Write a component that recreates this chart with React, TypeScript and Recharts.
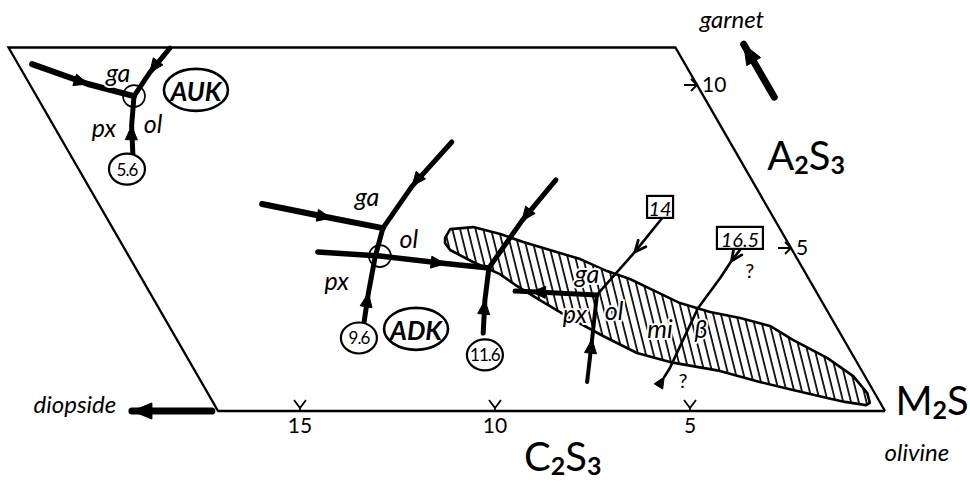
import React from 'react';
import { ScatterChart, Scatter, XAxis, YAxis } from 'recharts';

// compositions in wt%: c = C2S3 (0 at the M2S apex, growing to the left), a = A2S3
type Head = 'solid' | 'open' | 'rev';
type Pt = { c: number; a: number; head?: Head };
type Tag = { c: number; a: number; text: string };

const frame: Pt[] = [
  { c: 0, a: 0 },
  { c: 17.1, a: 0 },
  { c: 17.1, a: 11.15 },
  { c: 0, a: 11.15 },
  { c: 0, a: 0 },
];

// hatched field
const meltField: Pt[] = [
  { c: 8.72, a: 5.31 }, { c: 8.46, a: 5.58 }, { c: 7.84, a: 5.64 }, { c: 7.25, a: 5.43 },
  { c: 6.78, a: 5.18 }, { c: 6.21, a: 4.94 }, { c: 5.57, a: 4.66 }, { c: 5.06, a: 4.29 },
  { c: 4.59, a: 4.05 }, { c: 4.16, a: 3.71 }, { c: 3.66, a: 3.31 }, { c: 3.02, a: 3.04 },
  { c: 2.34, a: 2.85 }, { c: 1.69, a: 2.61 }, { c: 1.31, a: 2.18 }, { c: 0.7, a: 1.63 },
  { c: 0.3, a: 1.07 }, { c: 0.19, a: 0.55 }, { c: 0.27, a: 0.25 }, { c: 0.4, a: 0.18 },
  { c: 0.89, a: 0.28 }, { c: 1.29, a: 0.4 }, { c: 2.05, a: 0.64 }, { c: 2.78, a: 0.89 },
  { c: 3.64, a: 1.23 }, { c: 4.79, a: 1.5 }, { c: 5.5, a: 1.78 }, { c: 6.12, a: 2.3 },
  { c: 6.7, a: 2.85 }, { c: 7.21, a: 3.4 }, { c: 7.62, a: 3.87 }, { c: 7.85, a: 4.2 },
  { c: 8.36, a: 4.57 }, { c: 8.77, a: 4.94 }, { c: 8.8, a: 5.15 }, { c: 8.72, a: 5.31 },
];

// AUK cotectics
const aukGaPx: Pt[] = [{ c: 16.74, a: 10.64 }, { c: 15.6, a: 10.03, head: 'solid' }, { c: 14.6, a: 9.66 }];
const aukGaOl: Pt[] = [{ c: 12.97, a: 11.13 }, { c: 13.85, a: 10.38, head: 'solid' }, { c: 14.6, a: 9.66 }];
const aukPxOl: Pt[] = [{ c: 15.5, a: 7.85 }, { c: 15.1, a: 8.75, head: 'solid' }, { c: 14.6, a: 9.66 }];

// ADK cotectics
const adkGaPx: Pt[] = [{ c: 12.91, a: 6.35 }, { c: 11.35, a: 5.92, head: 'solid' }, { c: 10.17, a: 5.61 }];
const adkGaOl: Pt[] = [{ c: 7.13, a: 8.25 }, { c: 8.8, a: 6.9, head: 'solid' }, { c: 10.17, a: 5.61 }];
const adkPxOl: Pt[] = [{ c: 12.04, a: 2.73 }, { c: 11.5, a: 3.62, head: 'solid' }, { c: 10.8, a: 4.72 }, { c: 10.17, a: 5.61 }];
const adkTrunk: Pt[] = [{ c: 12.19, a: 4.88 }, { c: 10.66, a: 4.75 }, { c: 9.1, a: 4.52, head: 'solid' }, { c: 8.04, a: 4.39 }];
const run116North: Pt[] = [{ c: 5.02, a: 7.09 }, { c: 6.5, a: 5.83, head: 'solid' }, { c: 8.04, a: 4.39 }];
const run116South: Pt[] = [{ c: 9.15, a: 2.39 }, { c: 8.62, a: 3.4, head: 'solid' }, { c: 8.04, a: 4.39 }];

// run 14
const run14West: Pt[] = [{ c: 5.67, a: 3.56 }, { c: 7.3, a: 3.66, head: 'solid' }, { c: 7.71, a: 3.68 }];
const run14North: Pt[] = [{ c: 2.86, a: 5.92 }, { c: 4.06, a: 4.88, head: 'open' }, { c: 5.67, a: 3.56 }];
const run14South: Pt[] = [{ c: 7.21, a: 0.89 }, { c: 6.45, a: 2.2, head: 'solid' }, { c: 5.67, a: 3.56 }];

// run 16.5
const run165: Pt[] = [
  { c: 1.34, a: 4.94 }, { c: 1.72, a: 4.6, head: 'open' }, { c: 2.26, a: 4.08 },
  { c: 3.27, a: 3.16 }, { c: 4.18, a: 2.12 }, { c: 4.88, a: 1.32 }, { c: 5.16, a: 1.04, head: 'rev' },
];

const garnetDir: Pt[] = [{ c: -1.8, a: 9.63 }, { c: -1.8, a: 11.25, head: 'solid' }];
const diopsideDir: Pt[] = [{ c: 17.26, a: 0 }, { c: 19.31, a: 0, head: 'solid' }];

const junctionRings: Pt[] = [{ c: 14.6, a: 9.66 }, { c: 10.66, a: 4.75 }];

const phaseTags: Tag[] = [
  { c: 14.65, a: 10.4, text: 'ga' }, { c: 15.83, a: 8.71, text: 'px' }, { c: 14.51, a: 8.83, text: 'ol' },
  { c: 10.1, a: 6.6, text: 'ga' }, { c: 9.65, a: 5.31, text: 'ol' }, { c: 12.12, a: 4.02, text: 'px' },
  { c: 5.6, a: 4.23, text: 'ga' }, { c: 6.5, a: 3.01, text: 'px' }, { c: 5.45, a: 3.1, text: 'ol' },
  { c: 4.54, a: 2.55, text: 'mi' }, { c: 3.49, a: 2.55, text: 'β' },
];
const queryTags: Tag[] = [{ c: 1.38, a: 4.33, text: '?' }, { c: 4.72, a: 0.95, text: '?' }];
const runTags: Tag[] = [
  { c: 15.86, a: 7.42, text: '5.6' }, { c: 12.41, a: 2.24, text: '9.6' }, { c: 9.43, a: 1.72, text: '11.6' },
];
const boxTags: Tag[] = [{ c: 2.75, a: 6.26, text: '14' }, { c: 1.16, a: 5.31, text: '16.5' }];
const rockTags: Tag[] = [{ c: 12.92, a: 9.85, text: 'AUK' }, { c: 10.81, a: 2.52, text: 'ADK' }];
const mineralTags: Tag[] = [
  { c: -1.74, a: 11.75, text: 'garnet' }, { c: 20.8, a: -0.06, text: 'diopside' }, { c: -0.08, a: -1.53, text: 'olivine' },
];
const formulaTags: Tag[] = [
  { c: -1.54, a: 7.39, text: 'A2S3' }, { c: -1.15, a: -0.12, text: 'M2S' }, { c: 9.15, a: -1.84, text: 'C2S3' },
];
const c2s3Ticks = [15, 10, 5];
const a2s3Ticks = [10, 5];

const W = 970;
const H = 483;
// where the M2S apex lands and how many pixels one wt% spans
const APEX_X = 885;
const APEX_Y = 411;
const PX_C = 39;
const PX_A = 32.6;
const SLANT = 18.8;
const SHEAR = SLANT / PX_C;
const X_DOMAIN: [number, number] = [(APEX_X - W) / PX_C, APEX_X / PX_C];
const Y_DOMAIN: [number, number] = [(APEX_Y - H) / PX_A, APEX_Y / PX_A];

const FONT = 'Lato, "DejaVu Sans", sans-serif';

const toXY = <T extends { c: number; a: number }>(rows: T[]) =>
  rows.map((p) => ({ ...p, x: p.c + SHEAR * p.a, y: p.a }));

const pathOf = (ps: { x: number; y: number }[]) =>
  ps.map((p, i) => `${i ? 'L' : 'M'}${p.x.toFixed(1)},${p.y.toFixed(1)}`).join('');

const blank = () => <g />;

const flowLine = (src: Pt[], width: number, big = false) => (props: any) => {
  const ps: { x: number; y: number }[] = props.points || [];
  const len = big ? 20 : width < 3 ? 11 : 14;
  const half = big ? 8 : width < 3 ? 5 : 6;
  const heads = src.map((p, i) => {
    if (!p.head || !ps[i]) return null;
    const a = ps[Math.max(i - 1, 0)];
    const b = ps[Math.min(i + 1, ps.length - 1)];
    const n = Math.hypot(b.x - a.x, b.y - a.y) || 1;
    let ux = (b.x - a.x) / n;
    let uy = (b.y - a.y) / n;
    if (p.head === 'rev') {
      ux = -ux;
      uy = -uy;
    }
    const t = ps[i];
    const bx = t.x - ux * len;
    const by = t.y - uy * len;
    const d = `M${bx - uy * half},${by + ux * half}L${t.x},${t.y}L${bx + uy * half},${by - ux * half}`;
    if (p.head === 'open') {
      return <path key={i} d={d} fill='none' stroke='#000' strokeWidth={2.8} strokeLinecap='round' />;
    }
    return <path key={i} d={d + 'Z'} fill='#000' stroke='#000' strokeWidth={1} strokeLinejoin='round' />;
  });
  return (
    <g>
      <path d={pathOf(ps)} fill='none' stroke='#000' strokeWidth={width} strokeLinecap='round' strokeLinejoin='round' />
      {heads}
    </g>
  );
};

const outline = (props: any) => (
  <path d={pathOf(props.points || [])} fill='none' stroke='#000' strokeWidth={2.3} strokeLinejoin='miter' />
);

const hatched = (props: any) => (
  <g>
    <defs>
      <pattern id='hatch' width={7.5} height={12} patternUnits='userSpaceOnUse' patternTransform='rotate(-14)'>
        <line x1={1} y1={-1} x2={1} y2={13} stroke='#000' strokeWidth={1.7} />
      </pattern>
    </defs>
    <path d={pathOf(props.points || []) + 'Z'} fill='url(#hatch)' stroke='#000' strokeWidth={2.6} strokeLinejoin='round' />
  </g>
);

const halo = { stroke: '#fff', strokeWidth: 4, paintOrder: 'stroke' as const, strokeLinejoin: 'round' as const };

const phaseShape = (props: any) => (
  <text x={props.cx} y={props.cy} textAnchor='middle' dominantBaseline='central' fontFamily={FONT}
    fontStyle='italic' fontSize={25} fill='#000' {...halo}>
    {props.payload.text}
  </text>
);

const queryShape = (props: any) => (
  <text x={props.cx} y={props.cy} textAnchor='middle' dominantBaseline='central' fontFamily={FONT}
    fontSize={20} fill='#000'>
    {props.payload.text}
  </text>
);

const ringShape = (props: any) => (
  <circle cx={props.cx} cy={props.cy} r={11} fill='none' stroke='#000' strokeWidth={1.6} />
);

const runShape = (props: any) => (
  <g>
    <ellipse cx={props.cx} cy={props.cy} rx={18} ry={15.5} fill='#fff' stroke='#000' strokeWidth={2.2} />
    <text x={props.cx} y={props.cy} textAnchor='middle' dominantBaseline='central' fontFamily={FONT}
      fontSize={17} letterSpacing={-1} fill='#000'>
      {props.payload.text}
    </text>
  </g>
);

const boxShape = (props: any) => {
  const w = props.payload.text.length * 10 + 6;
  return (
    <g>
      <rect x={props.cx - w / 2} y={props.cy - 11} width={w} height={22} fill='#fff' stroke='#000' strokeWidth={2.2} />
      <text x={props.cx} y={props.cy + 1} textAnchor='middle' dominantBaseline='central' fontFamily={FONT}
        fontStyle='italic' fontSize={20} fill='#000'>
        {props.payload.text}
      </text>
    </g>
  );
};

const rockShape = (props: any) => (
  <g>
    <ellipse cx={props.cx} cy={props.cy} rx={32} ry={21} fill='#fff' stroke='#000' strokeWidth={2.6} />
    <text x={props.cx} y={props.cy + 1} textAnchor='middle' dominantBaseline='central' fontFamily={FONT}
      fontStyle='italic' fontWeight={700} fontSize={26} fill='#000'>
      {props.payload.text}
    </text>
  </g>
);

const mineralShape = (props: any) => (
  <text x={props.cx} y={props.cy} textAnchor='middle' fontFamily={FONT} fontStyle='italic' fontSize={24} fill='#000'>
    {props.payload.text}
  </text>
);

const formulaShape = (props: any) => {
  const parts: string[] = props.payload.text.match(/[A-Z]|\d/g) || [];
  let low = false;
  return (
    <text x={props.cx} y={props.cy} textAnchor='middle' fontFamily={FONT} fontSize={40} fill='#000'>
      {parts.map((ch, i) => {
        const sub = /\d/.test(ch);
        const dy = sub && !low ? 4 : !sub && low ? -4 : 0;
        low = sub;
        return (
          <tspan key={i} dy={dy} fontSize={sub ? 25 : 40} fontWeight={sub ? 700 : 400}>
            {ch}
          </tspan>
        );
      })}
    </text>
  );
};

const baseTickShape = (props: any) => {
  const { cx, cy } = props;
  return (
    <g>
      <path d={`M${cx - 6},${cy - 11}L${cx},${cy - 3}L${cx + 6},${cy - 11}M${cx},${cy - 3}V${cy}`}
        fill='none' stroke='#000' strokeWidth={1.8} />
      <text x={cx} y={cy + 22} textAnchor='middle' fontFamily={FONT} fontSize={21} fill='#000'>
        {props.payload.c}
      </text>
    </g>
  );
};

const sideTickShape = (props: any) => {
  const { cx, cy } = props;
  return (
    <g>
      <path d={`M${cx - 13},${cy}H${cx}M${cx - 6},${cy - 6}L${cx},${cy}L${cx - 6},${cy + 6}`}
        fill='none' stroke='#000' strokeWidth={1.8} />
      <text x={cx + 5} y={cy + 7} fontFamily={FONT} fontSize={21} fill='#000'>
        {props.payload.a}
      </text>
    </g>
  );
};

const flows: { key: string; pts: Pt[]; width: number; big?: boolean }[] = [
  { key: 'aukGaPx', pts: aukGaPx, width: 6 },
  { key: 'aukGaOl', pts: aukGaOl, width: 5 },
  { key: 'aukPxOl', pts: aukPxOl, width: 5 },
  { key: 'adkGaPx', pts: adkGaPx, width: 6 },
  { key: 'adkGaOl', pts: adkGaOl, width: 5 },
  { key: 'adkPxOl', pts: adkPxOl, width: 5 },
  { key: 'adkTrunk', pts: adkTrunk, width: 5.5 },
  { key: 'run116North', pts: run116North, width: 5 },
  { key: 'run116South', pts: run116South, width: 5 },
  { key: 'run14West', pts: run14West, width: 5 },
  { key: 'run14North', pts: run14North, width: 2.6 },
  { key: 'run14South', pts: run14South, width: 4 },
  { key: 'run165', pts: run165, width: 2.6 },
  { key: 'garnetDir', pts: garnetDir, width: 7, big: true },
  { key: 'diopsideDir', pts: diopsideDir, width: 7, big: true },
];

const App: React.FC = () => (
  <div style={{ position: 'absolute', left: 0, top: 0, width: W, height: H, background: '#fff' }}>
    <ScatterChart width={W} height={H} margin={{ top: 0, right: 0, bottom: 0, left: 0 }}>
      <XAxis type='number' dataKey='x' domain={X_DOMAIN} reversed hide allowDataOverflow />
      <YAxis type='number' dataKey='y' domain={Y_DOMAIN} hide allowDataOverflow />
      <Scatter data={toXY(meltField)} line={hatched} shape={blank} isAnimationActive={false} />
      <Scatter data={toXY(frame)} line={outline} shape={blank} isAnimationActive={false} />
      <Scatter data={toXY(c2s3Ticks.map((c) => ({ c, a: 0 })))} shape={baseTickShape} isAnimationActive={false} />
      <Scatter data={toXY(a2s3Ticks.map((a) => ({ c: 0, a })))} shape={sideTickShape} isAnimationActive={false} />
      {flows.map((f) => (
        <Scatter key={f.key} data={toXY(f.pts)} line={flowLine(f.pts, f.width, f.big)} shape={blank}
          isAnimationActive={false} />
      ))}
      <Scatter data={toXY(junctionRings)} shape={ringShape} isAnimationActive={false} />
      <Scatter data={toXY(phaseTags)} shape={phaseShape} isAnimationActive={false} />
      <Scatter data={toXY(queryTags)} shape={queryShape} isAnimationActive={false} />
      <Scatter data={toXY(runTags)} shape={runShape} isAnimationActive={false} />
      <Scatter data={toXY(boxTags)} shape={boxShape} isAnimationActive={false} />
      <Scatter data={toXY(rockTags)} shape={rockShape} isAnimationActive={false} />
      <Scatter data={toXY(mineralTags)} shape={mineralShape} isAnimationActive={false} />
      <Scatter data={toXY(formulaTags)} shape={formulaShape} isAnimationActive={false} />
    </ScatterChart>
  </div>
);

export default App;
